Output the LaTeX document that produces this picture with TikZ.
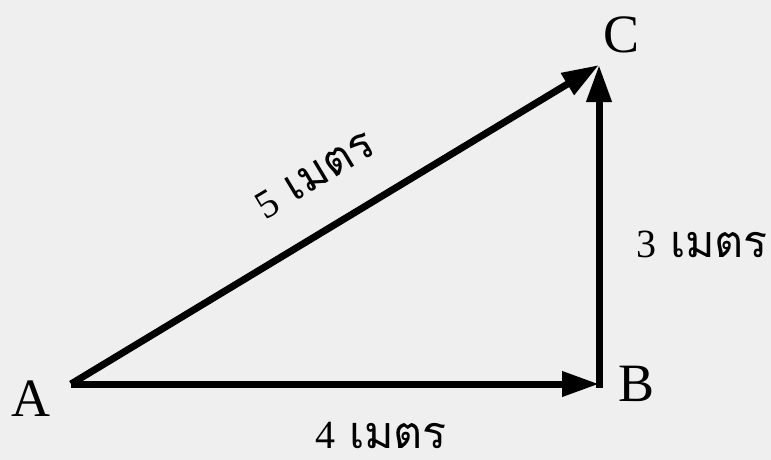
\documentclass[tikz,border=0pt]{standalone}
\usepackage{fontspec}
\setmainfont{Liberation Serif}
\newfontfamily\thaifont[Script=Thai,Scale=1.12]{Loma}
\usetikzlibrary{arrows.meta}
\definecolor{paper}{HTML}{EFEFEF}
\newcommand{\metre}[1]{#1\hspace{0.35em}{\thaifont เมตร}}
\begin{document}
\begin{tikzpicture}[x=1pt,y=-1pt,
    vec/.style={line width=7pt,-{Triangle[length=37pt,width=24pt]}},
    pt/.style={font=\fontsize{54}{60}\selectfont},
    len/.style={font=\fontsize{40}{48}\selectfont,inner sep=1pt}]
  \fill[paper] (0,0) rectangle (771,460);
  \useasboundingbox (0,0) rectangle (771,460);
  % corners
  \coordinate (A) at (71,384);
  \coordinate (B) at (599,384);
  \coordinate (C) at (599,65);
  \coordinate (Bb) at (599,387.5);
  % sides
  \draw[vec] (A) -- (B);
  \draw[vec] (Bb) -- (C);
  \draw[vec] (A) -- (C);
  % letters
  \node[pt] (labA) at (31,399) {A};
  \node[pt] (labB) at (637,384) {B};
  \node[pt] (labC) at (622,35) {C};
  % lengths
  \node[len] (ab) at (381,435) {\metre{4}};
  \node[len] (bc) at (702,244) {\metre{3}};
  \node[len,rotate=31] (ac) at (315,175) {\metre{5}};
\end{tikzpicture}
\end{document}
